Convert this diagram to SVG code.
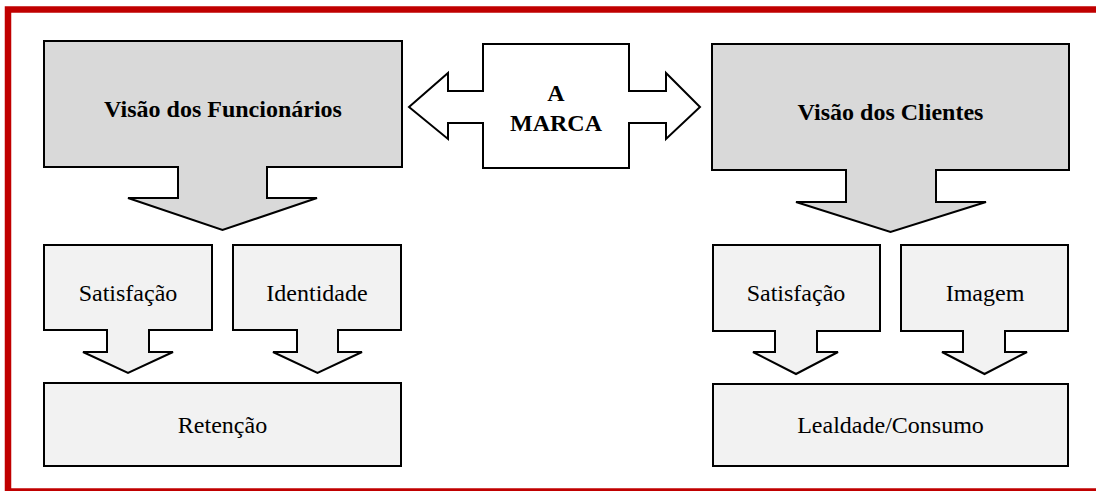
<svg xmlns="http://www.w3.org/2000/svg" width="1096" height="491" viewBox="0 0 1096 491">
<style>
.frame{fill:#ffffff;stroke:#c00000;stroke-width:6.5}
.big{fill:#d9d9d9;stroke:#000000;stroke-width:2;stroke-linejoin:miter}
.small{fill:#f2f2f2;stroke:#000000;stroke-width:2;stroke-linejoin:miter}
.brand{fill:#ffffff;stroke:#000000;stroke-width:2;stroke-linejoin:miter}
.tb{font-family:"Liberation Serif","Times New Roman",serif;font-size:24px;font-weight:bold;fill:#000000;text-anchor:middle}
.tr{font-family:"Liberation Serif","Times New Roman",serif;font-size:24px;fill:#000000;text-anchor:middle}
</style>
<rect x="0" y="0" width="1096" height="491" fill="#ffffff"/>
<rect class="frame" x="8" y="9.5" width="1100" height="482"/>
<g id="visao-funcionarios">
<polygon class="big" points="44,41 402,41 402,167 267,167 267,198 317,198 222.5,230 128,198 178,198 178,167 44,167"/>
<text class="tb" x="223" y="117">Visão dos Funcionários</text>
</g>
<g id="a-marca">
<polygon class="brand" points="409,107 448,73 448,91 483,91 483,44 629,44 629,91 666,91 666,73 700,107 666,139 666,123 629,123 629,168 483,168 483,123 448,123 448,139"/>
<text class="tb" x="556" y="101">A</text>
<text class="tb" x="556" y="131" font-size="25">MARCA</text>
</g>
<g id="visao-clientes">
<polygon class="big" points="712,44 1069,44 1069,170 936,170 936,202 986,202 890.5,232 796,202 846,202 846,170 712,170"/>
<text class="tb" x="890.5" y="120">Visão dos Clientes</text>
</g>
<g id="satisfacao-funcionarios">
<polygon class="small" points="44,245 212,245 212,330 149,330 149,352 173,352 128,373 83,352 107,352 107,330 44,330"/>
<text class="tr" x="128" y="301">Satisfação</text>
</g>
<g id="identidade">
<polygon class="small" points="233,245 401,245 401,330 338,330 338,352 362,352 317.5,373 273,352 297,352 297,330 233,330"/>
<text class="tr" x="317" y="301">Identidade</text>
</g>
<g id="retencao">
<rect class="small" x="44" y="383" width="357" height="83"/>
<text class="tr" x="222.5" y="433">Retenção</text>
</g>
<g id="satisfacao-clientes">
<polygon class="small" points="713,245 880,245 880,331 817,331 817,352 838,352 796,374 753,352 775,352 775,331 713,331"/>
<text class="tr" x="796" y="301">Satisfação</text>
</g>
<g id="imagem">
<polygon class="small" points="901,245 1068,245 1068,331 1005,331 1005,352 1027,352 984.5,374 942,352 963,352 963,331 901,331"/>
<text class="tr" x="985" y="301">Imagem</text>
</g>
<g id="lealdade-consumo">
<rect class="small" x="713" y="384" width="355" height="82"/>
<text class="tr" x="890.5" y="433">Lealdade/Consumo</text>
</g>
<g id="connectors"></g>
</svg>
